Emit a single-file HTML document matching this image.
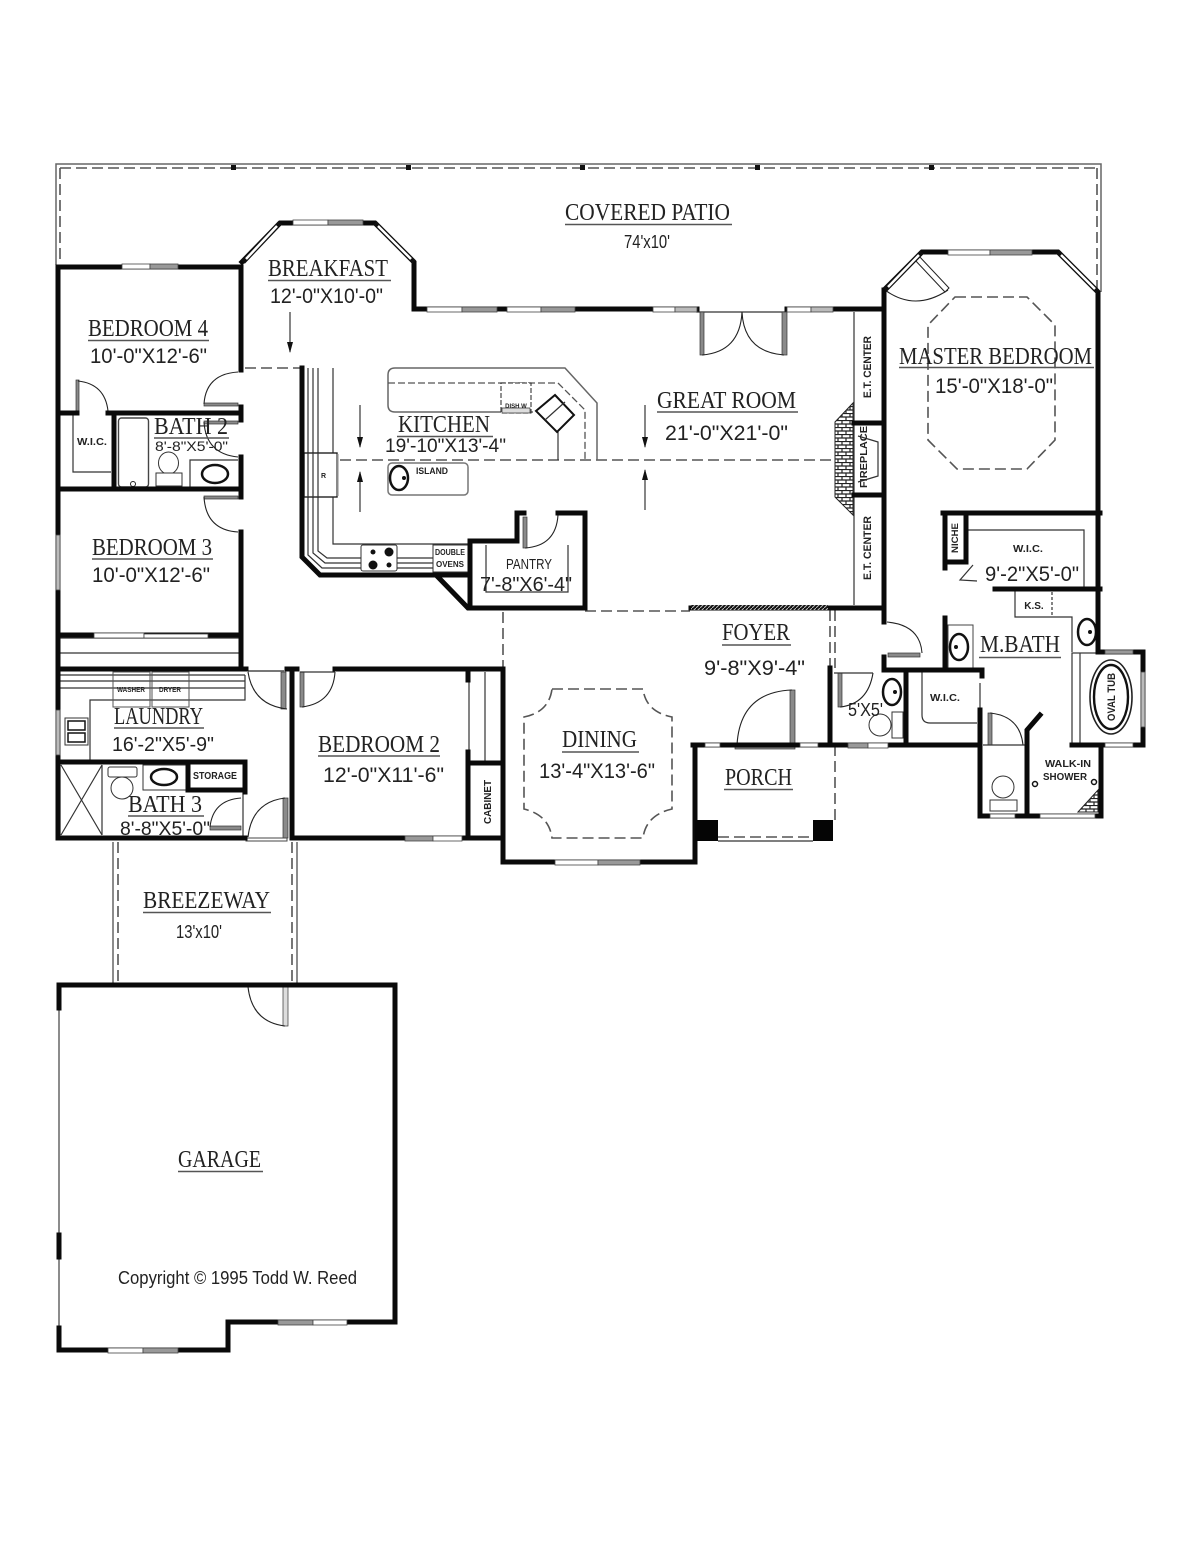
<!DOCTYPE html>
<html><head><meta charset="utf-8"><style>
html,body{margin:0;padding:0;background:#fff}
svg{display:block;filter:blur(.35px)}
.w{fill:none;stroke:#0a0a0a;stroke-width:5;stroke-linejoin:miter;stroke-linecap:square}
.t{fill:none;stroke:#333;stroke-width:1.2}
.g{fill:none;stroke:#666;stroke-width:1.5}
.d{fill:none;stroke:#555;stroke-width:1.6;stroke-dasharray:11 5}
.l{fill:#8a8a8a;stroke:#333;stroke-width:.7}
.a{fill:none;stroke:#222;stroke-width:1.1}
.n{font-family:"Liberation Serif",serif;font-size:24px;fill:#222}
.s{font-family:"Liberation Sans",sans-serif;font-size:21px;fill:#222}
.m{font-family:"Liberation Sans",sans-serif;font-size:10px;font-weight:bold;fill:#222}
.u{stroke:#555;stroke-width:1.6}
</style></head><body>
<svg xmlns="http://www.w3.org/2000/svg" width="1200" height="1557" viewBox="0 0 1200 1557">
<defs><pattern id="b" width="8" height="7" patternUnits="userSpaceOnUse"><rect width="8" height="7" fill="#fff"/><path d="M0 .5H8M0 4H8M2 0V4M6 4V7" stroke="#222" stroke-width="1.2"/></pattern>
<pattern id="h" width="4" height="4" patternUnits="userSpaceOnUse"><rect width="4" height="4" fill="#111"/><path d="M0 4L4 0" stroke="#bbb" stroke-width="1"/></pattern></defs>

<!-- patio -->
<path class="g" d="M56 265V164H1101V292"/>
<path class="d" d="M60 168H1097M60 168V262M1097 168V288"/>
<g fill="#111"><rect x="231" y="165" width="5" height="5"/><rect x="406" y="165" width="5" height="5"/><rect x="580" y="165" width="5" height="5"/><rect x="755" y="165" width="5" height="5"/><rect x="929" y="165" width="5" height="5"/></g>
<!-- breezeway -->
<path class="g" d="M113 842V984M297 842V984"/>
<path class="d" d="M118 842V984M292 842V984"/>
<!-- dashed -->
<path class="d" d="M245 368H302M340 460H835M585 611H690M503 612V668M830 610V668M835 610V668M835 745V820M718 837H813"/>
<path class="d" d="M955 297H1027L1055 325V440L1027 469H957L928 440V325Z"/>
<path class="d" d="M552 689H643Q646 712 672 717V809Q646 815 643 838H552Q549 815 524 809V717Q549 712 552 689Z"/>
<path class="t" d="M718 841H813"/>

<!-- kitchen counters -->
<path class="t" d="M333 368V544H469M308 368V555L322 568H433M313 368V553L325 563H433M318 368V551L327 558H433"/>
<rect x="304" y="453" width="33" height="44" fill="#fff" stroke="#222" stroke-width="1.4"/><rect x="336" y="454" width="2.5" height="42" fill="#888"/><path class="t" d="M308 453V497M313 453V497M318 453V497"/>
<text class="m" style="font-size:7px" x="321" y="478">R</text>
<rect x="361" y="545" width="36" height="26" rx="2" fill="#fff" stroke="#333"/><circle cx="373" cy="552" r="2.5" fill="#111"/><circle cx="389" cy="552" r="4.5" fill="#111"/><circle cx="373" cy="565" r="4.5" fill="#111"/><circle cx="389" cy="565" r="2.5" fill="#111"/>
<rect x="433" y="545" width="35" height="27" fill="#fff" stroke="#333"/>
<text class="m" style="font-size:8px" x="450" y="555" text-anchor="middle" textLength="30" lengthAdjust="spacingAndGlyphs">DOUBLE</text>
<text class="m" style="font-size:8px" x="450" y="567" text-anchor="middle" textLength="28" lengthAdjust="spacingAndGlyphs">OVENS</text>
<path class="g" d="M395 368H565L597 403V460M395 368Q388 368 388 375V405Q388 412 395 412H533"/>
<path class="d" style="stroke-width:1.3;stroke-dasharray:7 3" d="M388 383H558L585 410V460"/>
<path class="t" d="M558 432V460"/>
<path d="M501 383H531V413H501Z" fill="#fff" stroke="#222" stroke-dasharray="5 2"/><path d="M502 408H530V413H502Z" fill="#ddd" stroke="#333" stroke-width=".7"/>
<text class="m" style="font-size:6px" x="516" y="408" text-anchor="middle">DISH W</text>
<path d="M555 395L574 415L557 432L536 411Z" fill="#fff" stroke="#111" stroke-width="2"/><path class="t" d="M545 420L565 402"/>
<rect x="388" y="463" width="80" height="32" rx="4" fill="#fff" stroke="#777" stroke-width="1.5"/>
<ellipse cx="399" cy="478" rx="9" ry="12" fill="#fff" stroke="#111" stroke-width="2.5"/><circle cx="404" cy="478" r="2" fill="#111"/>
<text class="m" style="font-size:9px" x="432" y="474" text-anchor="middle" textLength="32" lengthAdjust="spacingAndGlyphs">ISLAND</text>
<path class="t" d="M486 545V592H568V545"/>
<!-- arrows -->
<path class="a" d="M290 312V352M360 405V447M360 472V512M645 405V447M645 470V510"/>
<path fill="#111" d="M287 342H293L290 353ZM357 437H363L360 448ZM357 482H363L360 471ZM642 437H648L645 448ZM642 480H648L645 469Z"/>

<!-- fireplace -->
<path d="M853 403L835 422V497L853 515Z" fill="url(#b)" stroke="#222"/>
<path class="t" d="M854 312V605M858 436L878 442V476L858 482"/>
<!-- french doors -->
<path class="t" d="M697 309V312H787"/>
<rect x="700" y="312" width="4" height="43" class="l"/><rect x="782" y="312" width="5" height="43" class="l"/>
<path class="a" d="M702 355Q740 352 742 312Q744 352 784 355"/>
<!-- master doors/closets -->
<path class="a" d="M885 290Q915 312 948 290"/><path d="M918 255L949 288L945 292L914 259Z" fill="#fff" stroke="#222"/>
<path class="t" d="M967 530H1084V589M973 565L960 580L977 581M1015 591V617H1072V652"/>
<path class="t" d="M1052 592V617" stroke-dasharray="3 2"/>
<!-- m bath fixtures -->
<rect x="948" y="625" width="25" height="43" fill="#fff" stroke="#444"/>
<ellipse cx="959" cy="647" rx="9" ry="13" fill="#fff" stroke="#111" stroke-width="2.5"/><circle cx="956" cy="647" r="2" fill="#111"/>
<ellipse cx="1087" cy="632" rx="9" ry="13" fill="#fff" stroke="#111" stroke-width="2.5"/><circle cx="1090" cy="632" r="2" fill="#111"/>
<path class="t" d="M922 672V715Q922 723 930 723H977"/>
<rect x="1072" y="653" width="71" height="92" fill="#fff" stroke="#333" stroke-width="1.2"/><path class="t" d="M1080 653V745"/>
<ellipse cx="1111" cy="697" rx="21" ry="37" fill="none" stroke="#222" stroke-width="1.6"/><ellipse cx="1111" cy="697" rx="17" ry="32" fill="none" stroke="#111" stroke-width="2.4"/>
<rect x="988" y="713" width="4" height="32" class="l"/>
<path class="a" d="M990 713Q1020 716 1023 745"/>
<path class="t" d="M983 745H1025M980 683V710"/>
<circle cx="1003" cy="787" r="11" fill="#fff" stroke="#333"/><rect x="990" y="800" width="27" height="11" fill="#fff" stroke="#333"/>
<circle cx="1035" cy="784" r="2.5" fill="#fff" stroke="#111" stroke-width="1.5"/><circle cx="1094" cy="782" r="2.5" fill="#fff" stroke="#111" stroke-width="1.5"/>
<path d="M1078 812L1098 790V812Z" fill="url(#b)" stroke="#222"/>
<!-- powder -->
<rect x="838" y="673" width="4" height="34" class="l"/><path class="a" d="M873 673Q868 704 840 707"/>
<path class="t" d="M834 673H873"/>
<ellipse cx="892" cy="692" rx="9" ry="13" fill="#fff" stroke="#111" stroke-width="2.5"/><circle cx="895" cy="692" r="2" fill="#111"/>
<ellipse cx="880" cy="725" rx="11" ry="11" fill="#fff" stroke="#333"/><rect x="892" y="712" width="11" height="26" fill="#fff" stroke="#333"/>
<!-- foyer / entry -->
<rect x="790" y="690" width="5" height="55" class="l"/><path class="a" d="M792 690Q740 692 737 745"/>
<rect x="735" y="745" width="60" height="4" class="l"/>
<rect x="888" y="653" width="32" height="4" class="l"/><path class="a" d="M887 622Q920 625 922 653"/>
<!-- bedrooms 4/2/3 doors -->
<rect x="204" y="403" width="34" height="3" class="l"/><path class="a" d="M238 372Q206 374 204 404"/>
<rect x="76" y="380" width="3" height="31" class="l"/><path class="a" d="M78 381Q105 384 108 411"/>
<rect x="204" y="421" width="34" height="3" class="l"/><path class="a" d="M238 457Q206 454 204 422"/>
<rect x="204" y="496" width="34" height="3" class="l"/><path class="a" d="M238 532Q206 530 204 497"/>
<path class="t" d="M73 414V472H111"/>
<rect x="118.500" y="418" width="30" height="69" rx="3" fill="#fff" stroke="#444" stroke-width="1.4"/><circle cx="133" cy="484" r="2.5" fill="#fff" stroke="#222"/>
<ellipse cx="168.500" cy="463" rx="10" ry="11" fill="#fff" stroke="#333"/><rect x="156" y="473" width="26" height="13" fill="#fff" stroke="#333"/>
<path class="t" d="M190 487V460H238"/><ellipse cx="215" cy="474" rx="13" ry="9" fill="#fff" stroke="#111" stroke-width="2.5"/>
<path class="t" d="M58 653H241M58 638H241"/>
<!-- laundry -->
<path class="t" d="M60 675H245M60 681H245M60 688H245M245 675V700H90V760"/>
<rect x="113" y="672" width="37" height="35" fill="none" stroke="#555"/><rect x="152" y="672" width="37" height="35" fill="none" stroke="#555"/>
<text class="m" style="font-size:7px" x="131" y="692" text-anchor="middle" textLength="28" lengthAdjust="spacingAndGlyphs">WASHER</text>
<text class="m" style="font-size:7px" x="170" y="692" text-anchor="middle" textLength="22" lengthAdjust="spacingAndGlyphs">DRYER</text>
<rect x="65" y="718" width="23" height="27" fill="#fff" stroke="#333"/><rect x="68" y="721" width="17" height="9" fill="none" stroke="#111" stroke-width="1.5"/><rect x="68" y="733" width="17" height="9" fill="none" stroke="#111" stroke-width="1.5"/>
<rect x="248" y="670" width="36" height="2" fill="#777"/><rect x="281" y="672" width="5" height="37" class="l"/><path class="a" d="M248 672Q253 705 287 709"/>
<rect x="300" y="672" width="4" height="35" class="l"/><path class="a" d="M335 672Q333 703 302 707"/>
<path class="t" d="M300 672H335M485 672V762M469 680V752"/>
<!-- bath 3 -->
<path class="t" d="M102 765V835M61 765L102 835M102 765L61 835M60 765V835"/>
<rect x="108" y="767" width="29" height="10" rx="2" fill="#fff" stroke="#333"/><circle cx="122" cy="788" r="11" fill="#fff" stroke="#333"/>
<rect x="143" y="765" width="44" height="25" fill="#fff" stroke="#333"/><ellipse cx="164" cy="777" rx="13" ry="8" fill="#fff" stroke="#111" stroke-width="2.5"/>
<rect x="210" y="826" width="31" height="4" class="l"/><path class="a" d="M241 798Q213 800 210 827"/>
<path class="t" d="M243 792V838"/>
<rect x="283" y="798" width="5" height="40" class="l"/><path class="a" d="M285 798Q252 802 248 837"/>
<rect x="246" y="838" width="41" height="3" fill="#fff" stroke="#444"/>
<!-- pantry door -->
<rect x="523" y="517" width="4" height="31" class="l"/><path class="a" d="M558 515Q556 546 525 548"/>
<!-- garage door -->
<rect x="248" y="983" width="38" height="4" fill="#fff" stroke="#444"/><rect x="283" y="987" width="5" height="39" class="l" style="fill:#ddd"/><path class="a" d="M248 987Q252 1022 285 1026"/>
<path class="g" d="M59 1008V1235M59 1257V1328"/>

<!-- WALLS -->
<path class="w" d="M58 267H241V370M241 407V420M241 457V497M241 532V669"/>
<path class="w" d="M58 267V838H245M58 413H77M108 413H241M58 489H241M114 413V489M58 635H241M58 669H246M58 762H245V792M188 762V790H245"/>
<path class="w" d="M242 262L280 223H375L414 262V309H697"/>
<path class="w" d="M787 309H884V290L922 252H1058L1098 292V652M884 290V622M884 657V670H982V676M945 618V670M854 423H884M854 495H884"/>
<path class="w" d="M691 608H884"/>
<rect x="691" y="605" width="137" height="5" fill="url(#h)"/>
<path class="w" d="M943 513H1100M945 513V568M966 513V562H945M995 589H1100"/>
<path class="w" d="M1100 652H1143V745H1072M906 670V745M830 668V745M693 745H980"/>
<path class="w" d="M695 745V862H503V838M694 745H700"/>
<rect x="695" y="820" width="23" height="21" fill="#050505"/><rect x="813" y="820" width="20" height="21" fill="#050505"/>
<path class="w" d="M292 669V838H503V763H468V838M287 669H297M335 669H503V763M468 669V680M468 752V763"/>
<path class="w" d="M980 710V816H1101V745M1101 745H1072M1040 715L1027 730V816"/>
<!-- kitchen/pantry walls -->
<path class="w" d="M302 368V557L320 575H470M302 368V370"/>
<path class="w" d="M438 577L468 608H585V513H558M517 513H524M517 513V541H470V608"/>
<!-- garage -->
<path class="w" d="M59 985H395V1322H228V1350H59V1328M59 985V1008M59 1235V1257"/>

<!-- windows -->
<g fill="#fff" stroke="#444" stroke-width=".8">
<rect x="122" y="264" width="28" height="5"/><rect x="150" y="264" width="28" height="5" fill="#999"/>
<rect x="293" y="220" width="35" height="5"/><rect x="328" y="220" width="35" height="5" fill="#999"/>
<rect x="427" y="307" width="35" height="5"/><rect x="462" y="307" width="35" height="5" fill="#999"/>
<rect x="507" y="307" width="34" height="5"/><rect x="541" y="307" width="34" height="5" fill="#999"/>
<rect x="653" y="307" width="22" height="5"/><rect x="675" y="307" width="22" height="5" fill="#bbb"/>
<rect x="787" y="307" width="24" height="5"/><rect x="811" y="307" width="22" height="5" fill="#bbb"/>
<rect x="948" y="250" width="42" height="5"/><rect x="990" y="250" width="42" height="5" fill="#999"/>
<rect x="94" y="633" width="50" height="5"/><rect x="144" y="634" width="64" height="4"/>
<rect x="56" y="535" width="4" height="55" fill="#bbb"/>
<rect x="56" y="710" width="4" height="45" fill="#bbb"/>
<rect x="405" y="836" width="28" height="5" fill="#999"/><rect x="433" y="836" width="29" height="5"/>
<rect x="555" y="860" width="43" height="5"/><rect x="598" y="860" width="42" height="5" fill="#999"/>
<rect x="705" y="743" width="15" height="4"/><rect x="800" y="743" width="18" height="4"/>
<rect x="848" y="743" width="20" height="5" fill="#999"/><rect x="868" y="743" width="20" height="5"/>
<rect x="278" y="1320" width="35" height="5" fill="#999"/><rect x="313" y="1320" width="34" height="5"/>
<rect x="108" y="1348" width="35" height="5"/><rect x="143" y="1348" width="35" height="5" fill="#999"/>
<rect x="1105" y="650" width="28" height="4" fill="#999"/><rect x="1105" y="743" width="28" height="4"/>
<rect x="1141" y="672" width="4" height="55" fill="#bbb"/>
<rect x="1040" y="814" width="55" height="4"/><rect x="990" y="814" width="25" height="4"/>
</g>
<g stroke="#111" stroke-width="5"><path d="M243 262L280 223" /><path d="M375 223L414 262"/><path d="M885 290L922 252"/><path d="M1058 252L1098 292"/></g>
<g stroke="#fff" stroke-width="2.500"><path d="M246 259L277 226"/><path d="M378 226L411 259"/><path d="M888 287L919 255"/><path d="M1061 255L1095 289"/></g>

<!-- labels -->
<text class="n" x="565" y="220" textLength="165" lengthAdjust="spacingAndGlyphs">COVERED PATIO</text><line class="u" x1="565" x2="732" y1="224.500" y2="224.500"/>
<text class="s" style="font-size:18px" x="624" y="248" textLength="46" lengthAdjust="spacingAndGlyphs">74'x10'</text>
<text class="n" x="268" y="276" textLength="120" lengthAdjust="spacingAndGlyphs">BREAKFAST</text><line class="u" x1="268" x2="391" y1="280.500" y2="280.500"/>
<text class="s" x="270" y="303" textLength="113" lengthAdjust="spacingAndGlyphs">12'-0"X10'-0"</text>
<text class="n" x="88" y="336" textLength="120" lengthAdjust="spacingAndGlyphs">BEDROOM 4</text><line class="u" x1="88" x2="209" y1="340.500" y2="340.500"/>
<text class="s" x="90" y="363" textLength="117" lengthAdjust="spacingAndGlyphs">10'-0"X12'-6"</text>
<text class="n" x="154" y="434" textLength="74" lengthAdjust="spacingAndGlyphs">BATH 2</text><line class="u" x1="154" x2="229" y1="438" y2="438"/>
<text class="s" style="font-size:14px" x="155" y="451" textLength="73" lengthAdjust="spacingAndGlyphs">8'-8"X5'-0"</text>
<text class="m" x="92" y="445" text-anchor="middle" textLength="30" lengthAdjust="spacingAndGlyphs">W.I.C.</text>
<text class="n" x="398" y="432" textLength="92" lengthAdjust="spacingAndGlyphs">KITCHEN</text><line class="u" x1="397" x2="493" y1="436.500" y2="436.500"/>
<text class="s" style="font-size:19px" x="385" y="452" textLength="121" lengthAdjust="spacingAndGlyphs">19'-10"X13'-4"</text>
<text class="n" x="657" y="408" textLength="139" lengthAdjust="spacingAndGlyphs">GREAT ROOM</text><line class="u" x1="657" x2="798" y1="412" y2="412"/>
<text class="s" x="665" y="440" textLength="123" lengthAdjust="spacingAndGlyphs">21'-0"X21'-0"</text>
<text class="n" x="899" y="364" textLength="193" lengthAdjust="spacingAndGlyphs">MASTER BEDROOM</text><line class="u" x1="899" x2="1094" y1="367.500" y2="367.500"/>
<text class="s" x="935" y="393" textLength="118" lengthAdjust="spacingAndGlyphs">15'-0"X18'-0"</text>
<text class="m" x="1028" y="552" text-anchor="middle" textLength="30" lengthAdjust="spacingAndGlyphs">W.I.C.</text>
<text class="s" x="985" y="581" textLength="94" lengthAdjust="spacingAndGlyphs">9'-2"X5'-0"</text>
<text class="m" x="1034" y="609" text-anchor="middle">K.S.</text>
<text class="n" x="92" y="555" textLength="120" lengthAdjust="spacingAndGlyphs">BEDROOM 3</text><line class="u" x1="92" x2="213" y1="559" y2="559"/>
<text class="s" x="92" y="582" textLength="118" lengthAdjust="spacingAndGlyphs">10'-0"X12'-6"</text>
<text class="s" style="font-size:15px" x="529" y="569" text-anchor="middle" textLength="46" lengthAdjust="spacingAndGlyphs">PANTRY</text>
<text class="s" style="font-size:20px" x="480" y="591" textLength="92" lengthAdjust="spacingAndGlyphs">7'-8"X6'-4"</text>
<text class="n" x="722" y="640" textLength="68" lengthAdjust="spacingAndGlyphs">FOYER</text><line class="u" x1="722" x2="791" y1="645" y2="645"/>
<text class="s" x="704" y="675" textLength="101" lengthAdjust="spacingAndGlyphs">9'-8"X9'-4"</text>
<text class="n" x="980" y="652" textLength="80" lengthAdjust="spacingAndGlyphs">M.BATH</text><line class="u" x1="979" x2="1061" y1="657.500" y2="657.500"/>
<text class="s" style="font-size:18px" x="848" y="716" textLength="35" lengthAdjust="spacingAndGlyphs">5'X5'</text>
<text class="m" x="945" y="701" text-anchor="middle" textLength="30" lengthAdjust="spacingAndGlyphs">W.I.C.</text>
<text class="m" x="1068" y="767" text-anchor="middle" textLength="46" lengthAdjust="spacingAndGlyphs">WALK-IN</text>
<text class="m" x="1065" y="780" text-anchor="middle" textLength="44" lengthAdjust="spacingAndGlyphs">SHOWER</text>
<text class="n" x="318" y="752" textLength="122" lengthAdjust="spacingAndGlyphs">BEDROOM 2</text><line class="u" x1="318" x2="440" y1="756" y2="756"/>
<text class="s" x="323" y="782" textLength="121" lengthAdjust="spacingAndGlyphs">12'-0"X11'-6"</text>
<text class="n" x="114" y="724" textLength="89" lengthAdjust="spacingAndGlyphs">LAUNDRY</text><line class="u" x1="114" x2="204" y1="728" y2="728"/>
<text class="s" style="font-size:20px" x="112" y="751" textLength="102" lengthAdjust="spacingAndGlyphs">16'-2"X5'-9"</text>
<text class="n" x="128" y="812" textLength="74" lengthAdjust="spacingAndGlyphs">BATH 3</text><line class="u" x1="128" x2="204" y1="816" y2="816"/>
<text class="s" style="font-size:19px" x="120" y="835" textLength="90" lengthAdjust="spacingAndGlyphs">8'-8"X5'-0"</text>
<text class="m" x="215" y="779" text-anchor="middle" textLength="44" lengthAdjust="spacingAndGlyphs">STORAGE</text>
<text class="n" x="562" y="747" textLength="75" lengthAdjust="spacingAndGlyphs">DINING</text><line class="u" x1="562" x2="639" y1="752" y2="752"/>
<text class="s" x="539" y="778" textLength="116" lengthAdjust="spacingAndGlyphs">13'-4"X13'-6"</text>
<text class="n" x="725" y="785" textLength="67" lengthAdjust="spacingAndGlyphs">PORCH</text><line class="u" x1="724" x2="793" y1="789.500" y2="789.500"/>
<text class="n" x="143" y="908" textLength="127" lengthAdjust="spacingAndGlyphs">BREEZEWAY</text><line class="u" x1="143" x2="271" y1="912.500" y2="912.500"/>
<text class="s" style="font-size:18px" x="176" y="938" textLength="46" lengthAdjust="spacingAndGlyphs">13'x10'</text>
<text class="n" x="178" y="1167" textLength="83" lengthAdjust="spacingAndGlyphs">GARAGE</text><line class="u" x1="178" x2="263" y1="1171.500" y2="1171.500"/>
<text class="s" style="font-size:18px" x="118" y="1284" textLength="239" lengthAdjust="spacingAndGlyphs">Copyright © 1995 Todd W. Reed</text>
<text class="m" transform="translate(871,398) rotate(-90)" textLength="62" lengthAdjust="spacingAndGlyphs" style="font-size:11px">E.T. CENTER</text>
<text class="m" transform="translate(871,580) rotate(-90)" textLength="64" lengthAdjust="spacingAndGlyphs" style="font-size:11px">E.T. CENTER</text>
<text class="m" transform="translate(867,488) rotate(-90)" textLength="62" lengthAdjust="spacingAndGlyphs" style="font-size:10px">FIREPLACE</text>
<text class="m" transform="translate(958,553) rotate(-90)" textLength="30" lengthAdjust="spacingAndGlyphs" style="font-size:9px">NICHE</text>
<text class="m" transform="translate(491,824) rotate(-90)" textLength="44" lengthAdjust="spacingAndGlyphs">CABINET</text>
<text class="m" transform="translate(1115,721) rotate(-90)" textLength="48" lengthAdjust="spacingAndGlyphs" style="font-size:11px">OVAL TUB</text>
</svg>
</body></html>
